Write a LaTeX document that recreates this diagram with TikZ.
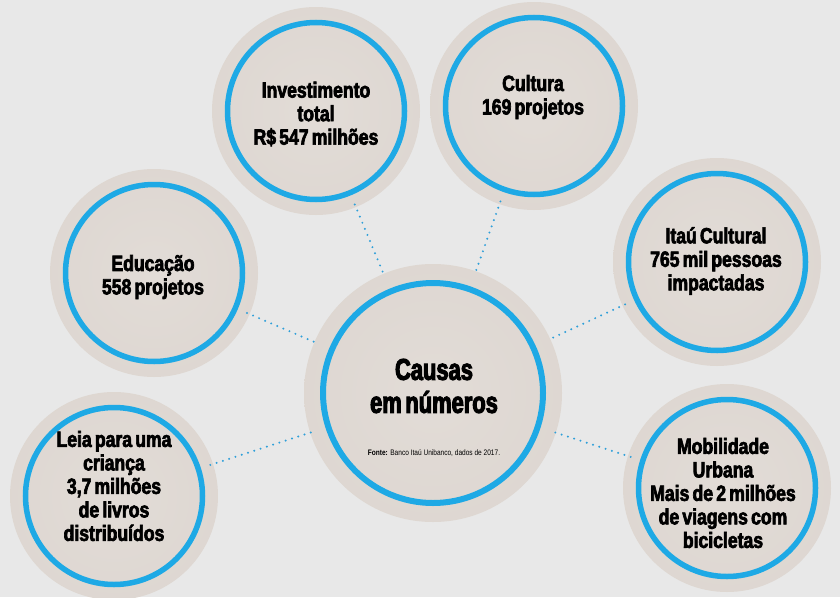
\documentclass[tikz,border=0pt]{standalone}
\usepackage{fontspec}
\setmainfont{Liberation Sans}
\newfontfamily\bubblefont{Liberation Sans}[FakeStretch=0.8, WordSpace=0.65, BoldFeatures={FakeBold=3}]
\newfontfamily\centerfont{Liberation Sans}[FakeStretch=0.73, WordSpace=0.6, BoldFeatures={FakeBold=3.5}]
\newfontfamily\fontefont{Liberation Sans}[FakeStretch=0.82]
\definecolor{bgc}{HTML}{E8E8E8}
\definecolor{innerA}{HTML}{E2DCD7}
\definecolor{innerB}{HTML}{DCD5CF}
\definecolor{innerS}{HTML}{C2B9B1}
\definecolor{outerA}{HTML}{CCC4BD}
\definecolor{outerB}{HTML}{BFB7B0}
\definecolor{outerC}{HTML}{A9A19B}
\definecolor{outerD}{HTML}{C6C3C0}
\definecolor{ringblue}{HTML}{1EA9E5}
\definecolor{dotblue}{HTML}{2E9FD9}
\pgfdeclareradialshading{bubbleshade}{\pgfpoint{0bp}{0bp}}{%
  color(0bp)=(innerA); color(36bp)=(innerB); color(41bp)=(innerS);
  color(44bp)=(outerA); color(46.5bp)=(outerB); color(48.2bp)=(outerC);
  color(49.2bp)=(outerD); color(50bp)=(bgc)}
\begin{document}
\begin{tikzpicture}[x=1pt,y=-1pt,
  bubble/.style={circle, inner sep=0pt, minimum size=#1, shade, shading=bubbleshade},
  ring/.style 2 args={path picture={\draw[draw=ringblue, line width=#2]
      (path picture bounding box.center) circle[radius=#1];}},
  link/.style={draw=dotblue, line width=2.2pt, line cap=round,
      dash pattern=on 0pt off 6.6pt, shorten <=-3pt, shorten >=-3pt},
  btxt/.style={align=center, inner sep=0pt, text=black,
      font=\bubblefont\bfseries\fontsize{22}{23.5}\selectfont},
  ctxt/.style={align=center, inner sep=0pt, text=black,
      font=\centerfont\bfseries\fontsize{30}{33}\selectfont},
  ftxt/.style={inner sep=0pt, text=black, font=\fontefont\fontsize{8}{9}\selectfont}
]
\useasboundingbox (0,0) rectangle (840,597);
\fill[bgc] (0,0) rectangle (840,597);

\node[bubble=208pt, ring={88.5pt}{5.5pt}] (inv)  at (316,111) {};
\node[bubble=208pt, ring={88.5pt}{5.5pt}] (cult) at (534,106) {};
\node[bubble=208pt, ring={88.5pt}{5.5pt}] (edu)  at (154,273) {};
\node[bubble=208pt, ring={88.5pt}{5.5pt}] (itau) at (717,262) {};
\node[bubble=208pt, ring={88.5pt}{5.5pt}] (leia) at (114,496) {};
\node[bubble=208pt, ring={88.5pt}{5.5pt}] (mob)  at (727,488) {};
\node[bubble=258pt, ring={110pt}{6pt}] (cen)  at (433,393) {};

\draw[link] (inv) -- (cen);
\draw[link] (cult) -- (cen);
\draw[link] (edu) -- (cen);
\draw[link] (itau) -- (cen);
\draw[link] (leia) -- (cen);
\draw[link] (mob) -- (cen);

\node[btxt] (invt)  at (316,114) {Investimento\\total\\R\$ 547 milhões};
\node[btxt] (cultt) at (533,97)  {Cultura\\169 projetos};
\node[btxt] (edut)  at (153,277) {Educação\\558 projetos};
\node[btxt] (itaut) at (716,261) {Itaú Cultural\\765 mil pessoas\\impactadas};
\node[btxt] (leiat) at (114,486) {Leia para uma\\criança\\3,7 milhões\\de livros\\distribuídos};
\node[btxt] (mobt)  at (723,493) {Mobilidade\\Urbana\\Mais de 2 milhões\\de viagens com\\bicicletas};
\node[ctxt] (cent)  at (434,386) {Causas\\em números};
\node[ftxt] (fonte) at (434,453) {\bfseries Fonte:\mdseries{} Banco Itaú Unibanco, dados de 2017.};
\end{tikzpicture}
\end{document}
